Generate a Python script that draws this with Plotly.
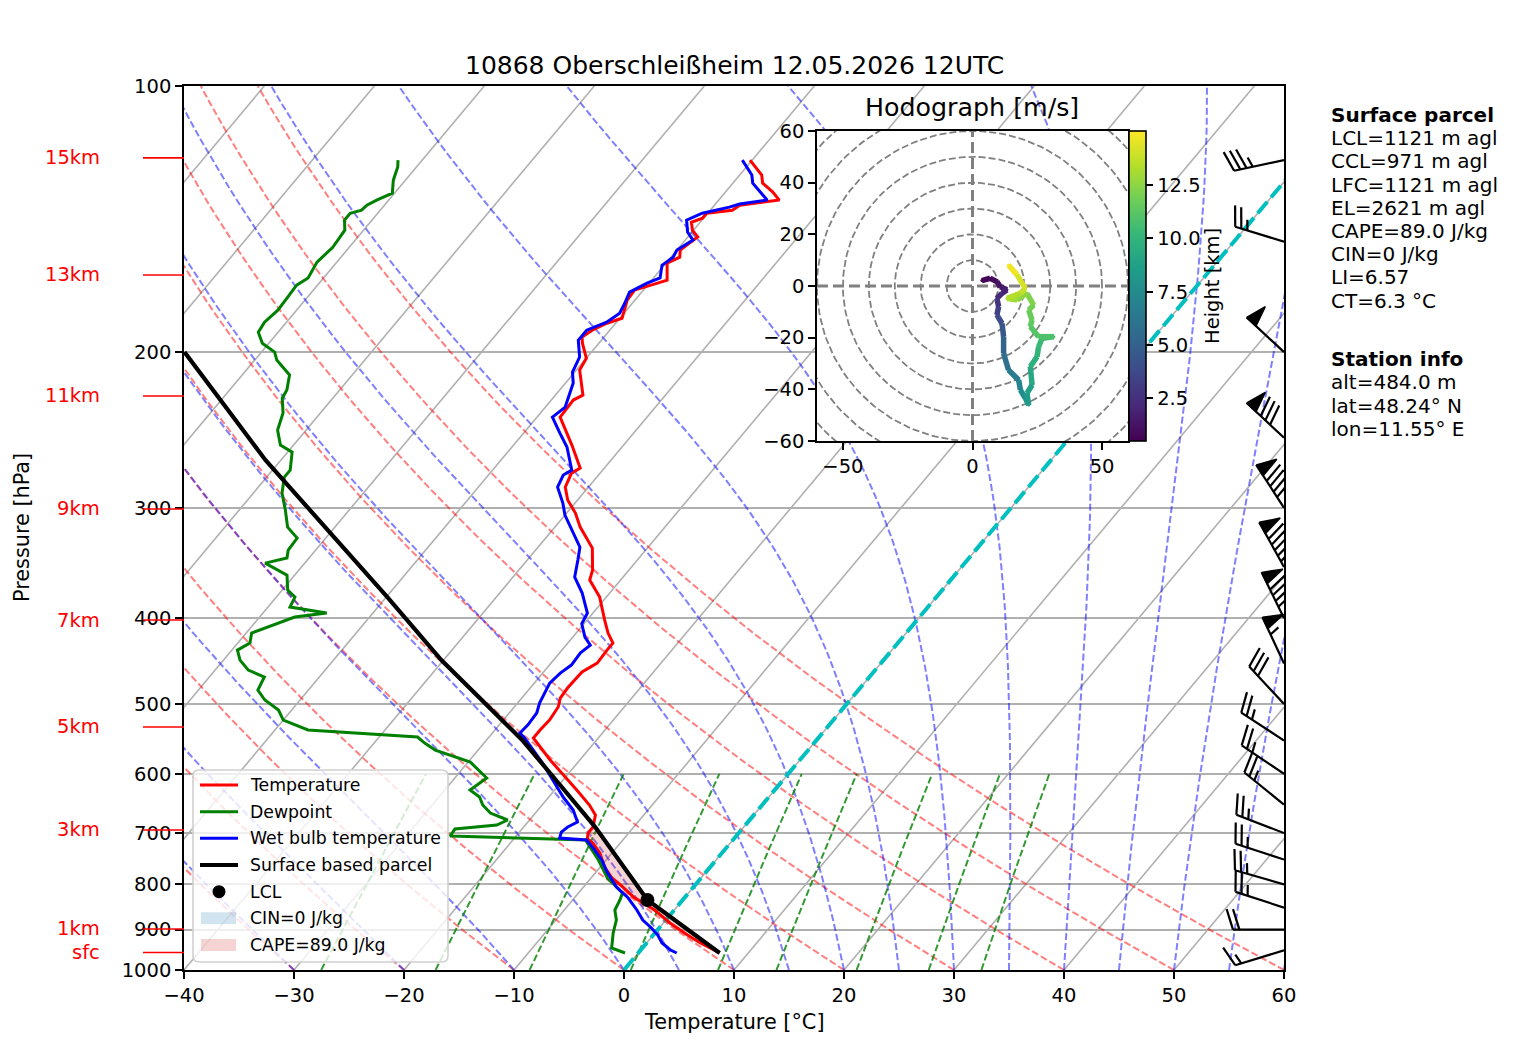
import numpy as np
import plotly.graph_objects as go
from plotly.colors import sample_colorscale

# the page body has an 8px margin, so the figure is made 8px smaller and all
# positions below are given in window pixels
OFF = 8
W, H = 1517 - OFF, 1056 - OFF
# main skew-T box in window pixels
BX0, BX1, BY0, BY1 = 184, 1284, 86, 970
PX_PER_C = (BX1 - BX0) / 100.0
PX_PER_DEC = BY1 - BY0
SKEW = 67.3  # degC of horizontal shift per decade of pressure

# ---------------- sounding values ----------------
temp_p = [121.3, 126.1, 128.8, 131.8, 134.6, 136.4, 138.2, 139.3, 141.1, 142.6, 145.6, 148.2,
          151.4, 153.3, 156.2, 158.6, 165.8, 168.0, 170.2, 174.7, 183.1, 185.5, 188.9, 192.3,
          195.4, 203.2, 209.6, 223.7, 226.6, 236.9, 247.0, 254.8, 270.5, 274.1, 284.3, 294.0,
          304.2, 315.5, 333.2, 352.9, 362.2, 378.6, 401.9, 415.8, 426.7, 434.6, 449.6, 460.2,
          479.8, 492.4, 504.1, 521.5, 535.2, 546.5, 578.7, 594.0, 625.7, 650.7, 667.8, 689.1,
          699.9, 710.9, 718.4, 737.4, 764.7, 786.9, 801.4, 826.8, 839.9, 855.3, 884.8, 912.9,
          932.1, 956.7]
temp_c = [-50.2, -48.0, -47.3, -45.7, -44.5, -47.7, -48.0, -50.1, -50.1, -50.8, -50.1, -49.1,
          -49.5, -49.7, -49.2, -49.9, -48.6, -49.8, -50.8, -50.7, -49.8, -50.8, -51.6, -52.0,
          -51.5, -50.0, -49.7, -47.5, -48.0, -47.9, -46.1, -44.7, -42.2, -42.6, -42.1, -40.9,
          -39.2, -37.7, -35.0, -33.3, -32.8, -30.6, -28.4, -27.1, -25.9, -25.9, -25.8, -26.5,
          -26.6, -26.5, -26.0, -25.8, -25.9, -25.9, -22.7, -21.1, -18.0, -15.7, -14.4, -13.7,
          -13.7, -13.3, -12.5, -11.1, -9.6, -8.1, -6.8, -4.7, -3.4, -1.8, 0.6, 3.1,
          4.9, 7.4]

dewp_p = [121.3, 123.5, 127.8, 132.2, 134.6, 136.4, 138.2, 139.3, 141.8, 145.6, 152.2, 158.2,
          164.9, 168.0, 173.3, 179.3, 185.0, 189.9, 195.4, 200.0, 204.2, 212.3, 220.8, 225.5,
          234.4, 245.0, 254.8, 259.5, 272.0, 277.0, 288.7, 301.8, 315.5, 324.6, 334.9, 342.0,
          346.5, 357.5, 371.7, 378.6, 388.5, 394.7, 398.8, 405.8, 415.8, 426.7, 434.6, 446.1,
          457.8, 466.2, 482.3, 495.0, 508.1, 521.5, 535.2, 545.1, 553.7, 563.9, 574.2, 581.8,
          606.5, 625.7, 637.3, 650.7, 664.4, 676.6, 685.5, 692.7, 705.4, 712.8, 750.9, 786.9,
          805.6, 818.3, 833.3, 855.3, 877.9, 908.1, 944.3, 956.7]
dewp_c = [-82.2, -81.7, -81.1, -80.2, -81.1, -81.6, -81.7, -82.5, -82.5, -81.7, -81.5, -81.8,
          -81.4, -81.9, -81.8, -81.7, -82.0, -81.8, -80.6, -78.8, -78.0, -75.7, -74.8, -74.6,
          -73.4, -72.6, -71.2, -69.6, -68.4, -68.4, -67.4, -65.8, -64.3, -62.6, -62.5, -62.0,
          -63.6, -60.7, -59.5, -58.3, -58.0, -54.2, -56.8, -58.0, -59.5, -58.9, -59.5, -58.5,
          -57.0, -55.0, -54.6, -53.2, -51.2, -50.0, -47.0, -36.5, -35.4, -33.9, -31.6, -29.8,
          -27.1, -27.7, -26.3, -25.4, -24.1, -22.0, -22.6, -26.1, -26.0, -13.4, -10.7, -8.5,
          -7.0, -6.0, -5.7, -5.4, -4.5, -3.8, -2.8, -1.2]

wetb_p = [121.3, 126.1, 128.8, 134.6, 136.0, 137.1, 139.3, 141.8, 146.3, 149.4, 153.3, 156.2,
          159.5, 164.9, 167.1, 171.1, 176.0, 180.7, 185.0, 188.9, 193.9, 202.6, 210.7, 216.8,
          230.8, 236.9, 247.0, 256.1, 272.0, 275.5, 284.3, 296.4, 305.8, 317.9, 332.4, 343.8,
          359.3, 374.6, 394.7, 405.8, 420.1, 429.0, 437.8, 451.9, 461.4, 473.6, 484.8, 498.9,
          512.0, 528.3, 539.4, 546.5, 581.8, 601.8, 620.9, 637.3, 659.2, 680.1, 689.1, 698.1,
          709.1, 712.8, 731.6, 750.9, 774.7, 805.6, 829.0, 855.3, 877.9, 896.4, 912.9, 932.1,
          949.2, 956.7]
wetb_c = [-50.9, -48.9, -48.2, -45.6, -47.8, -48.5, -50.5, -51.4, -50.4, -49.3, -50.0, -49.8,
          -50.2, -49.4, -50.2, -51.1, -50.7, -50.4, -50.9, -52.1, -52.1, -50.7, -50.2, -49.3,
          -48.2, -48.6, -46.7, -45.0, -42.8, -43.2, -42.8, -41.1, -40.0, -38.2, -36.2, -35.4,
          -34.4, -32.5, -30.5, -30.2, -28.9, -27.8, -28.1, -28.0, -28.4, -28.6, -28.3, -28.0,
          -27.5, -27.4, -27.5, -26.7, -23.3, -21.6, -20.0, -18.7, -16.8, -15.5, -16.0, -16.2,
          -15.9, -13.3, -11.8, -10.4, -9.0, -7.0, -5.1, -3.4, -2.1, -0.7, 0.4, 1.4,
          2.7, 3.5]

parcel_p = [200.0, 215.1, 234.4, 265.0, 378.6, 446.1, 550.8, 614.4, 689.1, 833.3, 956.7]
parcel_c = [-87.0, -83.0, -78.2, -71.4, -49.9, -40.2, -26.6, -20.2, -13.5, -3.2, 7.4]
lcl_p, lcl_c = 833.3, -3.2
el_p = 685.0

# wind barbs (knots, direction the wind blows from)
barb_p = [121.3, 150, 200, 250, 300, 350, 400, 450, 500, 550, 600, 650, 700, 750, 800, 850, 900, 950]
barb_dir = [258, 287, 313, 313, 327, 331, 334, 335, 317, 303, 304, 309, 291, 288, 286, 288, 270, 253]
barb_kt = [35, 25, 50, 80, 90, 95, 90, 55, 30, 25, 25, 25, 25, 25, 25, 25, 20, 15]

# hodograph (m/s) and height (km)
hodo_u = [3.6, 6.8, 9.4, 10.7, 13.3, 11.4, 9.4, 10.1, 9.4, 11.4, 12.0, 12.0, 13.9, 17.8, 18.5, 20.4,
          21.7, 21.0, 23.0, 22.3, 24.9, 25.5, 26.8, 31.4, 25.5, 22.3, 23.0, 21.7, 23.6, 21.0, 17.2,
          13.3, 18.5, 20.4, 17.2, 13.9]
hodo_v = [2.1, 3.0, 1.7, -0.3, -1.5, -2.8, -4.8, -8.0, -11.2, -14.5, -19.6, -26.1, -32.5, -36.4,
          -40.3, -43.5, -46.1, -41.5, -38.3, -31.2, -27.4, -23.5, -20.3, -19.6, -19.6, -15.7, -13.2,
          -9.3, -7.4, -2.8, -5.4, -4.8, -2.8, -0.9, 4.3, 8.1]
hodo_h = [0.484, 0.8, 1.1, 1.4, 1.7, 2.0, 2.5, 3.0, 3.6, 4.2, 4.8, 5.5, 6.2, 6.8, 7.3, 7.8, 8.2, 8.6,
          9.0, 9.5, 9.9, 10.2, 10.5, 10.8, 11.0, 11.3, 11.5, 11.8, 12.0, 12.4, 12.8, 13.2, 13.6, 13.9,
          14.4, 15.05]

height_labels = ['15km', '13km', '11km', '9km', '7km', '5km', '3km', '1km', 'sfc']
height_label_p = [120.6, 163.6, 224.2, 300.9, 401.9, 531.0, 694.3, 898.7, 955.4]

title = '10868 Oberschleißheim 12.05.2026 12UTC'
parcel_info = ['<b>Surface parcel</b>', 'LCL=1121 m agl', 'CCL=971 m agl', 'LFC=1121 m agl',
               'EL=2621 m agl', 'CAPE=89.0 J/kg', 'CIN=0 J/kg', 'LI=6.57', 'CT=6.3 °C']
station_info = ['<b>Station info</b>', 'alt=484.0 m', 'lat=48.24° N', 'lon=11.55° E']
legend_names = ['Temperature', 'Dewpoint', 'Wet bulb temperature', 'Surface based parcel',
                'LCL', 'CIN=0 J/kg', 'CAPE=89.0 J/kg']

FONT = 'DejaVu Sans'
Rd, Cp, Lv, EPS = 287.04749, 1004.6662, 2.50084e6, 0.6219569


def skew(t, p):
    return np.asarray(t, float) + SKEW * np.log10(1000.0 / np.asarray(p, float))


def px(x):
    return (x - OFF) / W


def py(y):
    return 1 - (y - OFF) / H


def p_to_paper(p):
    d = np.log10(1000.0 / p) * PX_PER_DEC
    return py(BY1 - d)


def moist_slope(t, p):
    es = 6.112 * np.exp(17.67 * (t - 273.15) / (t - 29.65))
    rs = EPS * es / (p - es)
    return (Rd * t + Lv * rs) / (Cp + Lv * Lv * rs * EPS / (Rd * t * t)) / p


def moist_adiabats(t0_c, p):
    t = np.asarray(t0_c, float) + 273.15
    rows = [t.copy()]
    for p0, p1 in zip(p[:-1], p[1:]):
        h = p1 - p0
        k1 = moist_slope(t, p0)
        k2 = moist_slope(t + 0.5 * h * k1, p0 + 0.5 * h)
        k3 = moist_slope(t + 0.5 * h * k2, p0 + 0.5 * h)
        k4 = moist_slope(t + h * k3, p1)
        t = t + h * (k1 + 2 * k2 + 2 * k3 + k4) / 6
        rows.append(t.copy())
    return np.array(rows) - 273.15


def joined(curves):
    xs, ys = [], []
    for x, y in curves:
        xs += list(x) + [None]
        ys += list(y) + [None]
    return xs, ys


fig = go.Figure()

# ---------------- background lines ----------------
p_line = np.linspace(1000, 100, 181)

iso = [(skew([t, t], [1000, 100]), [1000, 100]) for t in range(-110, 61, 10)]
x, y = joined(iso)
fig.add_trace(go.Scatter(x=x, y=y, mode='lines', line=dict(color='#b0b0b0', width=1.6),
                         hoverinfo='skip'))

dry = []
for t0 in np.arange(-40, 61, 10):
    t = (t0 + 273.15) * (p_line / 1000.0) ** (Rd / Cp) - 273.15
    dry.append((skew(t, p_line), p_line))
x, y = joined(dry)
fig.add_trace(go.Scatter(x=x, y=y, mode='lines', hoverinfo='skip',
                         line=dict(color='rgba(255,0,0,0.5)', width=2, dash='7px,3px')))

moist_t0 = np.concatenate((np.arange(-40, 0, 10), np.arange(0, 61, 5)))
mt = moist_adiabats(moist_t0, p_line)
x, y = joined([(skew(mt[:, i], p_line), p_line) for i in range(len(moist_t0))])
fig.add_trace(go.Scatter(x=x, y=y, mode='lines', hoverinfo='skip',
                         line=dict(color='rgba(0,0,255,0.5)', width=2, dash='7px,3px')))

p_mix = np.linspace(1000, 600, 20)
mix = []
for w in [0.0004, 0.001, 0.002, 0.004, 0.007, 0.01, 0.016, 0.024, 0.032]:
    e = p_mix * w / (EPS + w)
    lg = np.log(e / 6.112)
    td = 243.5 * lg / (17.67 - lg)
    mix.append((skew(td, p_mix), p_mix))
x, y = joined(mix)
fig.add_trace(go.Scatter(x=x, y=y, mode='lines', hoverinfo='skip',
                         line=dict(color='rgba(0,128,0,0.8)', width=2, dash='7px,3px')))

fig.add_trace(go.Scatter(x=skew([0, 0], [1000, 100]), y=[1000, 100], mode='lines',
                         hoverinfo='skip',
                         line=dict(color='#00bfbf', width=4, dash='15px,6px')))

# ---------------- CAPE shading ----------------
tp, tc = np.array(temp_p), np.array(temp_c)
pp, pc = np.array(parcel_p), np.array(parcel_c)
m = tp >= el_p
order = np.argsort(pp)
par = np.interp(np.log(tp[m]), np.log(pp[order]), pc[order])
par = np.maximum(par, tc[m])
fig.add_trace(go.Scatter(
    x=np.concatenate([skew(tc[m], tp[m]), skew(par, tp[m])[::-1]]),
    y=np.concatenate([tp[m], tp[m][::-1]]),
    mode='lines', fill='toself', fillcolor='rgba(214,39,40,0.2)', line=dict(width=0),
    hoverinfo='skip'))

# ---------------- profiles ----------------
for pr, tv, col in [(temp_p, temp_c, 'red'), (dewp_p, dewp_c, 'green'), (wetb_p, wetb_c, 'blue')]:
    fig.add_trace(go.Scatter(x=skew(tv, pr), y=pr, mode='lines',
                             line=dict(color=col, width=3), hoverinfo='skip'))
fig.add_trace(go.Scatter(x=skew(parcel_c, parcel_p), y=parcel_p, mode='lines',
                         line=dict(color='black', width=4.2), hoverinfo='skip'))
fig.add_trace(go.Scatter(x=skew([lcl_c], [lcl_p]), y=[lcl_p], mode='markers',
                         marker=dict(color='black', size=14), hoverinfo='skip'))


# ---------------- wind barbs (matplotlib geometry) ----------------
def barb(p0, kt, wdir, L=51.0):
    u = -kt * np.sin(np.radians(wdir))
    v = -kt * np.cos(np.radians(wdir))
    a = np.arctan2(v, u) + np.pi / 2
    bh, fw, sp = 0.4 * L, 0.25 * L, 0.125 * L
    mag = 5 * round(kt / 5)
    nflag, rest = divmod(mag, 50)
    nbarb, rest = divmod(rest, 10)
    lines, flags = [[(0, 0), (0, L)]], []
    off = L
    for _ in range(int(nflag)):
        if off != L:
            off += sp / 2
        flags.append([(0, off), (bh, off - fw / 2), (0, off - fw), (0, off)])
        off -= fw + sp
    for _ in range(int(nbarb)):
        lines.append([(0, off), (bh, off + fw / 2)])
        off -= sp
    if rest >= 5:
        if off == L:
            off -= 1.5 * sp
        lines.append([(0, off), (bh / 2, off + fw / 4)])

    def conv(pts):
        xs, ps = [], []
        for bx, by in pts:
            X = bx * np.cos(a) - by * np.sin(a)
            Y = bx * np.sin(a) + by * np.cos(a)
            xs.append(60 + X / PX_PER_C)
            ps.append(p0 * 10 ** (-Y / PX_PER_DEC))
        return xs, ps
    return [conv(s) for s in lines], [conv(f) for f in flags]


bl, bf = [], []
for p0, kt, wd in zip(barb_p, barb_kt, barb_dir):
    l_, f_ = barb(p0, kt, wd)
    bl += l_
    bf += f_
x, y = joined(bl)
fig.add_trace(go.Scatter(x=x, y=y, mode='lines', line=dict(color='black', width=2.2),
                         hoverinfo='skip'))
x, y = joined(bf)
fig.add_trace(go.Scatter(x=x, y=y, mode='lines', fill='toself', fillcolor='black',
                         line=dict(color='black', width=1.5), hoverinfo='skip'))

# ---------------- hodograph ----------------
th = np.linspace(0, 2 * np.pi, 181)
x, y = joined([(r * np.cos(th), r * np.sin(th)) for r in range(10, 90, 10)])
fig.add_trace(go.Scatter(x=x, y=y, xaxis='x2', yaxis='y2', mode='lines', hoverinfo='skip',
                         line=dict(color='#808080', width=1.8, dash='7px,3px')))
fig.add_trace(go.Scatter(x=[-60, 60, None, 0, 0], y=[0, 0, None, -60, 60], xaxis='x2', yaxis='y2',
                         mode='lines', hoverinfo='skip',
                         line=dict(color='#808080', width=3, dash='11px,5px')))
hmin, hmax = min(hodo_h), max(hodo_h)
fig.add_trace(go.Scatter(
    x=hodo_u, y=hodo_v, xaxis='x2', yaxis='y2', mode='markers', hoverinfo='skip',
    marker=dict(size=3, color=hodo_h, colorscale='Viridis', cmin=hmin, cmax=hmax, showscale=True,
                colorbar=dict(x=px(1129), xanchor='left', y=py(286), yanchor='middle',
                              len=310 / H, lenmode='fraction', thickness=17, xpad=0, ypad=0,
                              outlinewidth=1.6, outlinecolor='black', ticks='outside',
                              ticklen=7, tickwidth=1.6, tickcolor='black',
                              tickvals=[2.5, 5, 7.5, 10, 12.5],
                              ticktext=['2.5', '5.0', '7.5', '10.0', '12.5'],
                              tickfont=dict(size=19.5, color='black', family=FONT)))))
for i in range(len(hodo_u) - 1):
    f = ((hodo_h[i] + hodo_h[i + 1]) / 2 - hmin) / (hmax - hmin)
    fig.add_trace(go.Scatter(x=hodo_u[i:i + 2], y=hodo_v[i:i + 2], xaxis='x2', yaxis='y2',
                             mode='lines', hoverinfo='skip',
                             line=dict(color=sample_colorscale('Viridis', [f])[0], width=5.5)))

# ---------------- layout ----------------
ax_common = dict(showline=True, linecolor='black', linewidth=1.6, mirror=True, ticks='outside',
                 ticklen=7, tickwidth=1.6, tickcolor='black', zeroline=False, automargin=False,
                 tickfont=dict(size=19.5, color='black', family=FONT))
xt = list(range(-40, 61, 10))
pt = list(range(100, 1001, 100))
fig.update_layout(
    width=W, height=H, autosize=False, margin=dict(l=0, r=0, t=0, b=0, pad=0),
    paper_bgcolor='white', plot_bgcolor='white', showlegend=False,
    font=dict(family=FONT, size=19.5, color='black'),
    xaxis=dict(domain=[px(BX0), px(BX1)], range=[-40, 60], tickvals=xt,
               ticktext=[str(v).replace('-', '\u2212') for v in xt], showgrid=False,
               anchor='y', **ax_common),
    yaxis=dict(domain=[py(BY1), py(BY0)], type='log', range=[3, 2], tickvals=pt,
               ticktext=[str(v) for v in pt], showgrid=True, gridcolor='#b0b0b0', gridwidth=1.6,
               anchor='x', **ax_common),
    xaxis2=dict(domain=[px(817), px(1128)], range=[-60, 60], anchor='y2', showgrid=False,
                tickvals=[-50, 0, 50], ticktext=['\u221250', '0', '50'], **ax_common),
    yaxis2=dict(domain=[py(441), py(131)], range=[-60, 60], anchor='x2', showgrid=False,
                tickvals=list(range(-60, 61, 20)),
                ticktext=[str(v).replace('-', '\u2212') for v in range(-60, 61, 20)],
                **ax_common),
)

shapes = [dict(type='rect', xref='x2', yref='y2', x0=-60, x1=60, y0=-60, y1=60,
               fillcolor='white', line=dict(width=0), layer='below')]
ann = []


def text(x, y, s, size=19.5, **kw):
    d = dict(x=px(x), y=py(y), xref='paper', yref='paper', text=s, showarrow=False,
             font=dict(family=FONT, size=size, color=kw.pop('color', 'black')))
    d.update(kw)
    ann.append(d)


text((BX0 + BX1) / 2, 65, title, size=25, xanchor='center', yanchor='middle')
text((BX0 + BX1) / 2, 1022, 'Temperature [°C]', size=20.8, xanchor='center', yanchor='middle')
text(22, (BY0 + BY1) / 2, 'Pressure [hPa]', size=20.8, xanchor='center', yanchor='middle',
     textangle=-90)
text(972, 108, 'Hodograph [m/s]', size=25.3, xanchor='center', yanchor='middle')
text(1212, 286, 'Height [km]', xanchor='center', yanchor='middle', textangle=-90)

for lab, p in zip(height_labels, height_label_p):
    yp = p_to_paper(p)
    ann.append(dict(x=px(102), y=yp, xref='paper', yref='paper', text=lab, showarrow=False,
                    xanchor='right', yanchor='middle', font=dict(family=FONT, size=19.5, color='red')))
    shapes.append(dict(type='line', xref='paper', yref='paper', x0=px(143), x1=px(BX0), y0=yp, y1=yp,
                       line=dict(color='red', width=1.6)))

for i, s in enumerate(parcel_info):
    text(1329, 115 + 23.2 * i, s, size=20, xanchor='left', yanchor='middle')
for i, s in enumerate(station_info):
    text(1329, 359 + 23.3 * i, s, size=20, xanchor='left', yanchor='middle')


# manual legend box
def rounded_rect(x0, y0, x1, y1, r):
    X, Y = px, py
    return (f"M {X(x0 + r)},{Y(y0)} L {X(x1 - r)},{Y(y0)} Q {X(x1)},{Y(y0)} {X(x1)},{Y(y0 + r)} "
            f"L {X(x1)},{Y(y1 - r)} Q {X(x1)},{Y(y1)} {X(x1 - r)},{Y(y1)} L {X(x0 + r)},{Y(y1)} "
            f"Q {X(x0)},{Y(y1)} {X(x0)},{Y(y1 - r)} L {X(x0)},{Y(y0 + r)} "
            f"Q {X(x0)},{Y(y0)} {X(x0 + r)},{Y(y0)} Z")


shapes.append(dict(type='path', xref='paper', yref='paper', path=rounded_rect(193, 770, 448, 962, 6),
                   fillcolor='rgba(255,255,255,0.8)', line=dict(color='#d0d0d0', width=1.6),
                   layer='above'))
leg_y = [785 + 26.67 * i for i in range(len(legend_names))]
for yy, col, wd in zip(leg_y[:4], ['red', 'green', 'blue', 'black'], [3, 3, 3, 4.2]):
    shapes.append(dict(type='line', xref='paper', yref='paper', x0=px(200), x1=px(238),
                       y0=py(yy), y1=py(yy), line=dict(color=col, width=wd), layer='above'))
shapes.append(dict(type='circle', xref='paper', yref='paper', x0=px(212.5), x1=px(225.5),
                   y0=py(leg_y[4] + 6.5), y1=py(leg_y[4] - 6.5), fillcolor='black',
                   line=dict(width=0), layer='above'))
for yy, col in zip(leg_y[5:], ['rgba(31,119,180,0.2)', 'rgba(214,39,40,0.2)']):
    shapes.append(dict(type='rect', xref='paper', yref='paper', x0=px(201), x1=px(236),
                       y0=py(yy + 6), y1=py(yy - 6), fillcolor=col, line=dict(width=0),
                       layer='above'))
for yy, s in zip(leg_y, legend_names):
    text(248, yy, s, size=17.3, xanchor='left', yanchor='middle')

fig.update_layout(shapes=shapes, annotations=ann)
fig.write_html("out.html")
